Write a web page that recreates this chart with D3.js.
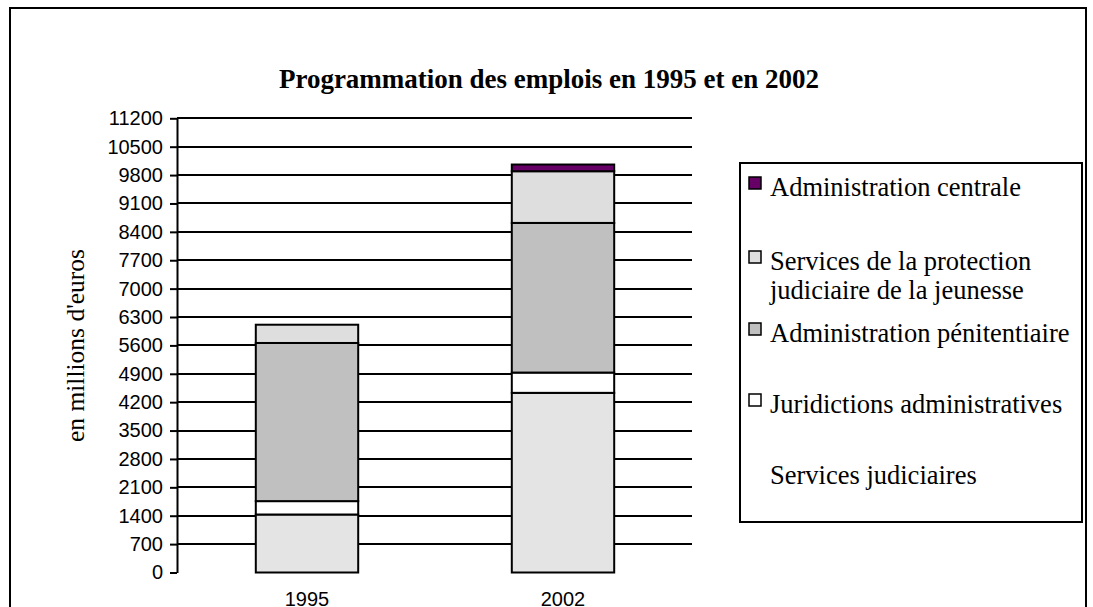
<!DOCTYPE html>
<html><head><meta charset="utf-8">
<script src="https://cdn.jsdelivr.net/npm/d3@7"></script>
<style>
html,body{margin:0;padding:0;background:#fff;}
svg{display:block;}
</style>
</head><body>
<script>
const categories = ["1995", "2002"];
const seriesNames = ["Services judiciaires", "Juridictions administratives", "Administration pénitentiaire", "Services de la protection judiciaire de la jeunesse", "Administration centrale"];
const servicesJudiciaires = [1430, 4430];
const juridictionsAdministratives = [330, 500];
const administrationPenitentiaire = [3900, 3690];
const protectionJeunesse = [450, 1275];
const administrationCentrale = [0, 165];
const yTicks = [0, 700, 1400, 2100, 2800, 3500, 4200, 4900, 5600, 6300, 7000, 7700, 8400, 9100, 9800, 10500, 11200];
const colors = ["#e4e4e4", "#ffffff", "#c0c0c0", "#dedede", "#660066"];
const legendOrder = [4, 3, 2, 1, 0];

const W = 1093, H = 607;
const svg = d3.select("body").append("svg").attr("width", W).attr("height", H);

// outer frame
svg.append("rect").attr("x", 10).attr("y", 8).attr("width", 1076).attr("height", 620)
  .attr("fill", "none").attr("stroke", "#000").attr("stroke-width", 2);

const table = categories.map((c, i) => ({
  cat: c,
  [seriesNames[0]]: servicesJudiciaires[i],
  [seriesNames[1]]: juridictionsAdministratives[i],
  [seriesNames[2]]: administrationPenitentiaire[i],
  [seriesNames[3]]: protectionJeunesse[i],
  [seriesNames[4]]: administrationCentrale[i]
}));
const stacked = d3.stack().keys(seriesNames)(table);

const y = d3.scaleLinear().domain([0, 11200]).range([572.5, 118.3]);
const x = d3.scaleBand().domain(categories).range([179, 691]).padding(0);
const plotLeft = 177, plotRight = 692;
const barW = x.bandwidth() * 0.4;

// gridlines
svg.append("g").selectAll("line").data(yTicks.filter(d => d > 0)).join("line")
  .attr("x1", plotLeft).attr("x2", plotRight)
  .attr("y1", d => Math.round(y(d))).attr("y2", d => Math.round(y(d)))
  .attr("stroke", "#000").attr("stroke-width", 2);

// y axis
const yAxis = d3.axisLeft(y).tickValues(yTicks).tickFormat(d3.format("d"))
  .tickSize(7).tickSizeOuter(0).tickPadding(7);
const gy = svg.append("g").attr("transform", `translate(${plotLeft},0)`).call(yAxis);
gy.select(".domain").attr("stroke", "#000").attr("stroke-width", 2);
gy.selectAll(".tick line").attr("stroke", "#000").attr("stroke-width", 2);
gy.selectAll(".tick text").attr("font-family", "Liberation Sans, Arial, sans-serif")
  .attr("font-size", 20).attr("fill", "#000");

// bars
svg.append("g").selectAll("g").data(stacked).join("g")
  .attr("fill", (d, i) => colors[i])
  .selectAll("rect").data(d => d.filter(s => s[1] - s[0] > 0)).join("rect")
  .attr("x", d => x(d.data.cat) + x.bandwidth() / 2 - barW / 2)
  .attr("width", barW)
  .attr("y", d => y(d[1]))
  .attr("height", d => y(d[0]) - y(d[1]))
  .attr("stroke", "#000").attr("stroke-width", 2);

// x labels
svg.append("g").selectAll("text").data(categories).join("text")
  .attr("x", d => x(d) + x.bandwidth() / 2).attr("y", 606)
  .attr("text-anchor", "middle")
  .attr("font-family", "Liberation Sans, Arial, sans-serif").attr("font-size", 20)
  .text(d => d);

// y label
svg.append("text").attr("transform", "translate(84,345.5) rotate(-90)")
  .attr("text-anchor", "middle")
  .attr("font-family", "Liberation Serif, Times New Roman, serif").attr("font-size", 25.5)
  .text("en millions d'euros");

// title
svg.append("text").attr("x", 549).attr("y", 88).attr("text-anchor", "middle")
  .attr("font-family", "Liberation Serif, Times New Roman, serif").attr("font-size", 27)
  .attr("font-weight", "bold")
  .text("Programmation des emplois en 1995 et en 2002");

// legend
const lg = svg.append("g");
lg.append("rect").attr("x", 740).attr("y", 163).attr("width", 342).attr("height", 359)
  .attr("fill", "#fff").attr("stroke", "#000").attr("stroke-width", 2);
const legendLines = {
  4: { y: [196], lines: ["Administration centrale"] },
  3: { y: [270, 299], lines: ["Services de la protection", "judiciaire de la jeunesse"] },
  2: { y: [342], lines: ["Administration pénitentiaire"] },
  1: { y: [413], lines: ["Juridictions administratives"] },
  0: { y: [484], lines: ["Services judiciaires"] }
};
legendOrder.forEach(i => {
  const item = legendLines[i];
  if (i !== 0) {
    lg.append("rect").attr("x", 749).attr("y", item.y[0] - 19).attr("width", 12).attr("height", 12)
      .attr("fill", colors[i]).attr("stroke", "#000").attr("stroke-width", 1.5);
  }
  item.lines.forEach((t, k) => {
    lg.append("text").attr("x", 770).attr("y", item.y[k])
      .attr("font-family", "Liberation Serif, Times New Roman, serif").attr("font-size", 26.5)
      .text(t);
  });
});
</script>
</body></html>
